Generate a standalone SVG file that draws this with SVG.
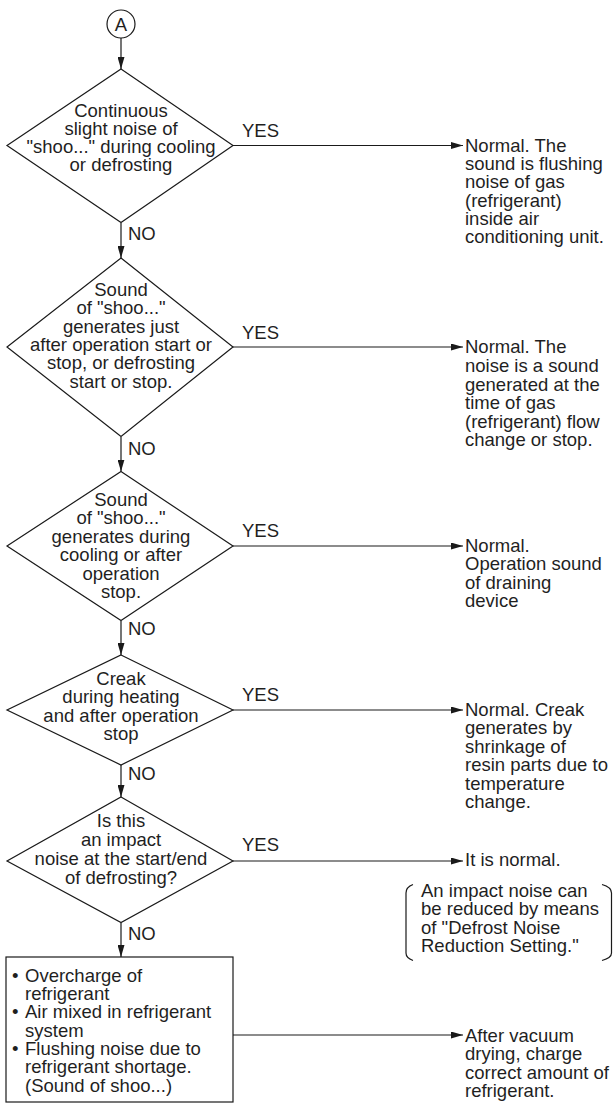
<svg xmlns="http://www.w3.org/2000/svg" width="614" height="1104" viewBox="0 0 614 1104">
  <defs>
    <marker id="arrow" markerUnits="userSpaceOnUse" markerWidth="12" markerHeight="7" refX="12" refY="3.5" orient="auto">
      <path d="M0,0 L12,3.5 L0,7 z" fill="#1a1a1a"/>
    </marker>
    <style>
      text { font-family: "Liberation Sans", Arial, Helvetica, sans-serif; font-size: 18.5px; fill: #1f1f1f; }
      .c { text-anchor: middle; }
      .shape { fill: #ffffff; stroke: #1a1a1a; stroke-width: 1.2; }
      .link { fill: none; stroke: #1a1a1a; stroke-width: 1.2; marker-end: url(#arrow); }
      .brace { fill: none; stroke: #1a1a1a; stroke-width: 1.2; }
    </style>
  </defs>
  <rect width="614" height="1104" fill="#ffffff"/>

  <!-- connectors -->
  <g id="connectors">
    <line class="link" x1="121" y1="38" x2="121" y2="69"/>
    <line class="link" x1="121" y1="223" x2="121" y2="258"/>
    <line class="link" x1="121" y1="437" x2="121" y2="471.5"/>
    <line class="link" x1="121" y1="621" x2="121" y2="655"/>
    <line class="link" x1="121" y1="765" x2="121" y2="797"/>
    <line class="link" x1="121" y1="923" x2="121" y2="957"/>

    <line class="link" x1="233" y1="145.5" x2="463" y2="145.5"/>
    <line class="link" x1="233" y1="347" x2="463" y2="347"/>
    <line class="link" x1="233" y1="546" x2="463" y2="546"/>
    <line class="link" x1="233" y1="710" x2="463" y2="710"/>
    <line class="link" x1="233" y1="861" x2="463" y2="861"/>
    <line class="link" x1="233" y1="1035" x2="463" y2="1035"/>

    <text x="242" y="137">YES</text>
    <text x="242" y="338.5">YES</text>
    <text x="242" y="536.5">YES</text>
    <text x="242" y="701">YES</text>
    <text x="242" y="851">YES</text>

    <text x="128" y="240">NO</text>
    <text x="128" y="455">NO</text>
    <text x="128" y="635">NO</text>
    <text x="128" y="780">NO</text>
    <text x="128" y="939.5">NO</text>
  </g>

  <!-- connector A -->
  <g id="start-A">
    <circle class="shape" cx="121" cy="24" r="14"/>
    <text class="c" x="121" y="30.5">A</text>
  </g>

  <!-- decision 1 -->
  <g id="q1">
    <polygon class="shape" points="121,69 233,145.5 121,222.5 7,145.5"/>
    <text class="c" x="121" y="116.5">Continuous</text>
    <text class="c" x="121" y="134.8">slight noise of</text>
    <text class="c" x="121" y="153.1">"shoo..." during cooling</text>
    <text class="c" x="121" y="171.4">or defrosting</text>
  </g>
  <g id="r1">
    <text x="465" y="151.7">Normal. The</text>
    <text x="465" y="170">sound is flushing</text>
    <text x="465" y="188.3">noise of gas</text>
    <text x="465" y="206.6">(refrigerant)</text>
    <text x="465" y="224.9">inside air</text>
    <text x="465" y="243.2">conditioning unit.</text>
  </g>

  <!-- decision 2 -->
  <g id="q2">
    <polygon class="shape" points="121,258 233,347 121,436.5 7,347"/>
    <text class="c" x="121" y="296">Sound</text>
    <text class="c" x="121" y="314.3">of "shoo..."</text>
    <text class="c" x="121" y="332.6">generates just</text>
    <text class="c" x="121" y="350.9">after operation start or</text>
    <text class="c" x="121" y="369.2">stop, or defrosting</text>
    <text class="c" x="121" y="387.5">start or stop.</text>
  </g>
  <g id="r2">
    <text x="465" y="353.3">Normal. The</text>
    <text x="465" y="371.9">noise is a sound</text>
    <text x="465" y="390.5">generated at the</text>
    <text x="465" y="409.1">time of gas</text>
    <text x="465" y="427.7">(refrigerant) flow</text>
    <text x="465" y="446.3">change or stop.</text>
  </g>

  <!-- decision 3 -->
  <g id="q3">
    <polygon class="shape" points="121,471.5 233,546 121,620.5 7,546"/>
    <text class="c" x="121" y="506">Sound</text>
    <text class="c" x="121" y="524.4">of "shoo..."</text>
    <text class="c" x="121" y="542.8">generates during</text>
    <text class="c" x="121" y="561.2">cooling or after</text>
    <text class="c" x="121" y="579.6">operation</text>
    <text class="c" x="121" y="598">stop.</text>
  </g>
  <g id="r3">
    <text x="465" y="551.5">Normal.</text>
    <text x="465" y="570">Operation sound</text>
    <text x="465" y="588.5">of draining</text>
    <text x="465" y="607">device</text>
  </g>

  <!-- decision 4 -->
  <g id="q4">
    <polygon class="shape" points="121,655 233,710 121,765 7,710"/>
    <text class="c" x="121" y="685">Creak</text>
    <text class="c" x="121" y="703.4">during heating</text>
    <text class="c" x="121" y="721.8">and after operation</text>
    <text class="c" x="121" y="740.2">stop</text>
  </g>
  <g id="r4">
    <text x="465" y="715.5">Normal. Creak</text>
    <text x="465" y="734">generates by</text>
    <text x="465" y="752.5">shrinkage of</text>
    <text x="465" y="771">resin parts due to</text>
    <text x="465" y="789.5">temperature</text>
    <text x="465" y="808">change.</text>
  </g>

  <!-- decision 5 -->
  <g id="q5">
    <polygon class="shape" points="121,797 233,861 121,922.5 7,861"/>
    <text class="c" x="121" y="827">Is this</text>
    <text class="c" x="121" y="846">an impact</text>
    <text class="c" x="121" y="865">noise at the start/end</text>
    <text class="c" x="121" y="884">of defrosting?</text>
  </g>
  <g id="r5">
    <text x="465" y="866">It is normal.</text>
  </g>
  <g id="note5">
    <path class="brace" d="M413,884.5 Q406,887 406,893 L406,953 Q406,958 413,960.5"/>
    <path class="brace" d="M602,884.5 Q611.5,887 611.5,893 L611.5,953 Q611.5,958 602,960.5"/>
    <text x="421" y="896.7">An impact noise can</text>
    <text x="421" y="915.2">be reduced by means</text>
    <text x="421" y="933.7">of "Defrost Noise</text>
    <text x="421" y="952.2">Reduction Setting."</text>
  </g>

  <!-- cause box -->
  <g id="causes">
    <rect class="shape" x="6" y="957" width="227" height="145"/>
    <text x="12" y="981.7">•</text>
    <text x="25" y="981.7">Overcharge of</text>
    <text x="25" y="1000">refrigerant</text>
    <text x="12" y="1018.3">•</text>
    <text x="25" y="1018.3">Air mixed in refrigerant</text>
    <text x="25" y="1036.6">system</text>
    <text x="12" y="1054.9">•</text>
    <text x="25" y="1054.9">Flushing noise due to</text>
    <text x="25" y="1073.2">refrigerant shortage.</text>
    <text x="25" y="1091.5">(Sound of shoo...)</text>
  </g>
  <g id="r6">
    <text x="465" y="1041.7">After vacuum</text>
    <text x="465" y="1060.2">drying, charge</text>
    <text x="465" y="1078.7">correct amount of</text>
    <text x="465" y="1097.2">refrigerant.</text>
  </g>
</svg>
